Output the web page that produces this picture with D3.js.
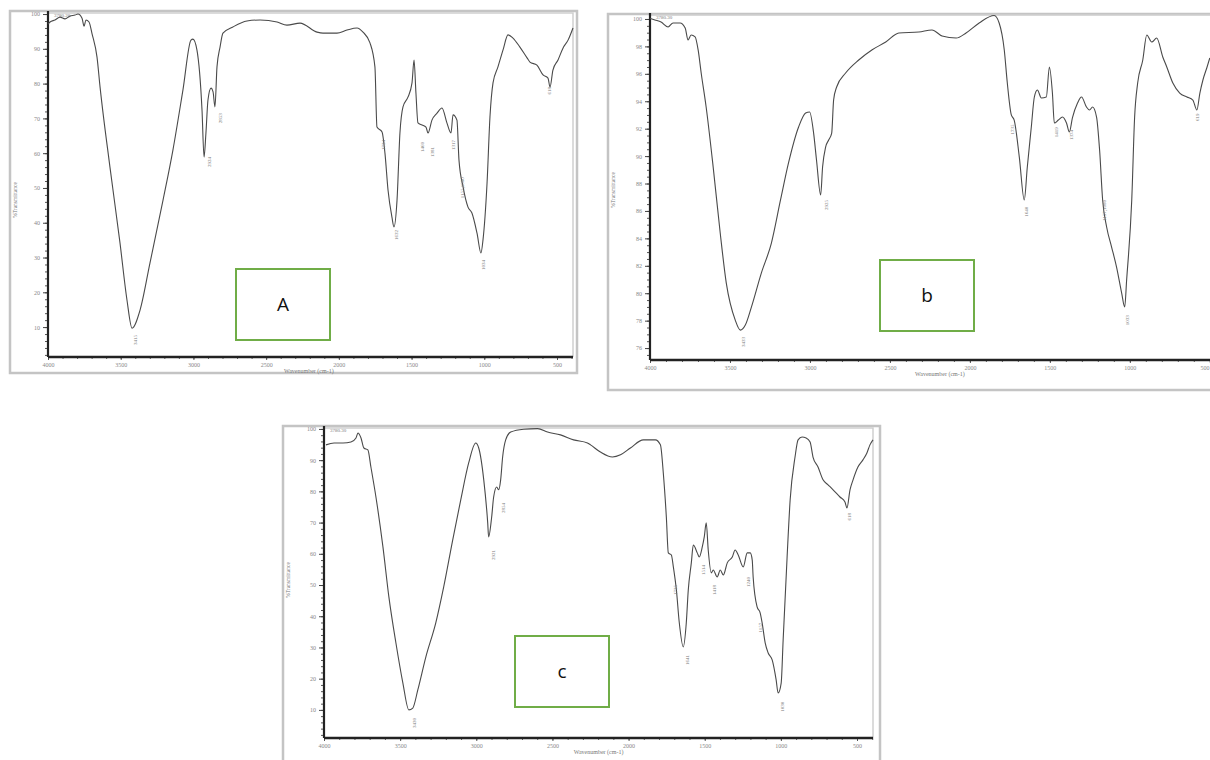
<!DOCTYPE html>
<html>
<head>
<meta charset="utf-8">
<script src="https://cdn.jsdelivr.net/npm/d3@7"></script>
<style>
  body { margin: 0; background: #fff; }
  svg { display: block; }
</style>
</head>
<body>
<script>
// three FTIR spectra (A, b, c)
var wnA = [4000,3986,3952,3917,3883,3849,3814,3794,3766,3752,3739,3718,3697,3663,3642,3574,3505,3457,3422,3367,
  3299,3209,3141,3072,3017,3003,2976,2941,2927,2914,2900,2879,2865,2852,2838,2817,2797,2728,2632,2542,
  2425,2357,2267,2150,2109,2013,1944,1875,1834,1786,1752,1738,1703,1683,1662,1635,1621,1600,1580,1559,
  1525,1497,1483,1470,1456,1428,1401,1387,1360,1325,1291,1257,1229,1215,1188,1174,1146,1112,1085,1050,
  1023,1009,981,961,940,906,871,837,803,755,706,686,638,596,562,548,528,493,459,424,390];
var tA = [97.1,97.7,98.3,99.1,98.6,99.4,99.7,100,98.8,96.5,98.3,97.7,94.3,87.6,79.0,56.0,34.2,17.8,9.7,14.9,
  28.4,46.5,60.9,78.2,92.5,92.8,89.7,72.4,58.9,65.8,75.3,78.7,77.6,73.3,84.8,90.5,94.5,96.3,98.0,98.3,
  97.7,96.8,97.4,94.8,94.5,94.5,95.4,96.0,94.8,91.7,84.8,67.5,66.1,60.0,49.4,41.6,38.8,46.5,65.8,73.3,
  76.1,80.2,86.8,77.3,68.7,68.1,67.5,65.8,69.5,71.5,73.0,68.7,65.8,71.0,69.5,58.0,50.3,44.5,42.8,37.0,
  31.3,35.0,51.4,70.4,80.2,84.8,89.7,94.0,93.1,90.5,87.4,86.2,85.3,82.5,81.6,79.0,83.9,86.8,90.2,92.5,96.0];

var wnB = [4000,3969,3931,3887,3856,3812,3780,3762,3743,3718,3699,3680,3649,3605,3561,3523,3467,3435,3404,3366,
  3304,3241,3184,3134,3071,3027,3002,2977,2959,2933,2921,2902,2883,2864,2852,2833,2777,2695,2613,2526,
  2444,2319,2237,2174,2086,2024,1942,1848,1817,1785,1766,1741,1723,1691,1660,1641,1616,1597,1578,1553,
  1522,1503,1484,1472,1447,1421,1396,1378,1359,1327,1302,1271,1252,1233,1208,1189,1170,1145,1114,1083,
  1051,1032,1020,988,970,951,919,894,863,832,794,769,731,688,643,606,581,562,543,517,500];
var tB = [100.05,99.93,99.78,99.42,99.71,99.71,99.34,98.47,98.83,98.69,97.74,96.06,93.58,89.20,84.39,80.74,78.04,77.31,77.68,78.99,
  81.47,83.66,86.80,89.50,92.12,93.14,93.22,91.68,89.72,87.16,89.20,90.66,91.17,91.68,94.09,95.04,96.06,97.01,97.74,98.32,
  98.98,99.05,99.20,98.76,98.61,98.98,99.71,100.25,99.71,97.74,95.33,93.00,92.63,89.93,86.80,89.20,92.12,94.31,94.82,94.24,
  94.31,96.50,94.60,92.41,92.63,92.85,92.41,91.76,92.78,93.87,94.31,93.58,93.36,93.58,92.85,90.44,86.80,84.83,83.37,81.91,
  80.01,78.99,80.96,86.80,92.85,95.33,97.01,98.83,98.32,98.61,97.23,96.50,95.33,94.60,94.31,94.09,93.36,94.60,95.55,96.50,97.16];

var wnC = [3987,3934,3875,3823,3790,3777,3757,3738,3712,3692,3659,3613,3574,3528,3482,3443,3417,3384,3331,3266,
  3214,3155,3102,3050,3004,2984,2951,2925,2919,2899,2886,2866,2853,2840,2827,2807,2774,2689,2597,2532,
  2447,2361,2270,2250,2185,2106,2053,1988,1903,1824,1791,1772,1752,1739,1719,1706,1686,1667,1641,1621,
  1608,1588,1575,1549,1536,1516,1503,1490,1477,1457,1444,1418,1398,1378,1352,1319,1300,1280,1247,1221,
  1201,1188,1182,1156,1136,1123,1103,1084,1057,1031,1018,998,985,959,939,907,887,861,834,808,
  789,756,723,690,657,612,579,566,546,526,494,461,435,415,395];
var tC = [94.9,95.5,95.5,95.8,97.1,98.7,97.1,93.9,93.3,87.8,78.2,62.2,46.2,31.5,18.6,10.0,10.6,16.4,27.0,37.9,
  49.4,64.4,77.3,89.1,95.5,93.9,83.7,69.9,65.4,71.8,78.2,81.4,80.5,83.7,91.0,96.5,99.0,99.9,100.1,99.0,
  98.1,96.5,95.5,94.9,92.6,91.0,91.7,93.9,96.5,96.5,94.9,85.9,71.8,60.3,59.6,55.8,48.4,37.9,30.2,37.9,
  48.4,57.1,62.8,60.3,59.0,62.2,65.4,69.9,61.2,53.9,54.8,52.6,54.8,53.2,57.1,59.0,61.2,59.6,55.8,60.3,
  60.3,58.0,52.6,43.0,41.1,37.9,31.5,28.3,26.0,19.6,15.4,18.6,32.4,59.0,77.3,91.0,96.5,97.4,97.1,95.8,
  91.0,87.8,83.7,82.1,80.5,78.2,76.6,74.7,80.5,83.7,87.8,90.1,92.3,94.9,96.5];

// peak labels: text, wavenumber and %T where the label starts
var peaksA = [["3415",3402,7.7],["2924",2893,58.9],["2853",2817,71.5],["1734",1696,63.8],["1632",1608,37.9],
  ["1460",1428,63.2],["1381",1360,61.8],["1317",1215,63.8],["1155,1080",1153,53.1],["1034",1009,29.3],["618",554,79.0]];
var peaksB = [["3433",3417,76.8],["2925",2896,86.8],["1735",1735,92.3],["1640",1647,86.3],["1419",1459,92.1],
  ["1374",1365,91.9],["1157,1080",1158,86.8],["1033",1014,78.4],["619",581,93.1]];
var peaksC = [["3430",3410,7.4],["2921",2886,61.2],["2854",2820,76.3],["1735",1693,50.0],["1641",1614,27.6],
  ["1514",1509,56.4],["1418",1437,50.0],["1240",1215,52.6],["1157",1136,37.9],["1030",992,12.6],["618",553,73.1]];
var topNotes = ["3780.26", "3780.30", "3780.30"];

var xTicks = [4000,3500,3000,2500,2000,1500,1000,500];
var yTicksA = [10,20,30,40,50,60,70,80,90,100];
var yTicksB = [76,78,80,82,84,86,88,90,92,94,96,98,100];
var yTicksC = [10,20,30,40,50,60,70,80,90,100];
var panelNames = ["A", "b", "c"];

var W = 1210, H = 760;
var svg = d3.select("body").append("svg")
    .attr("width", W).attr("height", H)
    .style("font-family", "'Liberation Serif', serif");

svg.append("rect").attr("width", W).attr("height", H).attr("fill", "#fff");

var panels = [
  {wn: wnA, t: tA, peaks: peaksA, yTicks: yTicksA, yMinor: 2, note: topNotes[0], name: panelNames[0],
   frame: [10, 11, 567, 362], l: 48, r: 573, top: 13, bot: 357, xDom: [4000, 390], yDom: [1.4, 100.3],
   box: [236, 269, 94, 71], yTitle: 200},
  {wn: wnB, t: tB, peaks: peaksB, yTicks: yTicksB, yMinor: 0.5, note: topNotes[1], name: panelNames[1],
   frame: [608, 14, 610, 376], l: 650, r: 1213, top: 15, bot: 360, xDom: [4000, 480], yDom: [75.13, 100.29],
   box: [880, 260, 94, 71], yTitle: 190},
  {wn: wnC, t: tC, peaks: peaksC, yTicks: yTicksC, yMinor: 2, note: topNotes[2], name: panelNames[2],
   frame: [283, 426, 597, 340], l: 324, r: 873, top: 428, bot: 738, xDom: [4000, 395], yDom: [1.0, 100.3],
   box: [515, 636, 94, 71], yTitle: 580}
];

panels.forEach(function(p, i) {
  var g = svg.append("g");

  // scan frame
  g.append("rect")
      .attr("x", p.frame[0]).attr("y", p.frame[1])
      .attr("width", p.frame[2]).attr("height", p.frame[3])
      .attr("fill", "none").attr("stroke", "#c4c4c4").attr("stroke-width", 2.5);

  var x = d3.scaleLinear().domain(p.xDom).range([p.l, p.r]),
      y = d3.scaleLinear().domain(p.yDom).range([p.bot, p.top]);

  // light top/right border of the plot
  g.append("path")
      .attr("d", "M" + p.l + "," + p.top + "H" + p.r + "V" + p.bot)
      .attr("fill", "none").attr("stroke", "#cfcfcf").attr("stroke-width", 1.5);

  // y axis with dense ruler ticks
  var yMin = d3.range(Math.ceil(p.yDom[0] / p.yMinor) * p.yMinor, p.yDom[1], p.yMinor);
  g.append("g")
      .attr("transform", "translate(" + p.l + ",0)")
      .call(d3.axisLeft(y).tickValues(yMin).tickSize(3).tickFormat(""))
      .call(function(a) { a.select(".domain").remove(); a.selectAll("line").attr("stroke", "#555"); });
  g.append("g")
      .attr("transform", "translate(" + p.l + ",0)")
      .call(d3.axisLeft(y).tickValues(p.yTicks).tickSize(5).tickPadding(3).tickFormat(d3.format("d")))
      .call(function(a) {
        a.select(".domain").remove();
        a.selectAll("line").attr("stroke", "#444");
        a.selectAll("text").attr("fill", "#888").style("font-size", "6px")
          .style("font-family", "'Liberation Serif', serif");
      });
  g.append("line")
      .attr("x1", p.l).attr("x2", p.l).attr("y1", p.top - 2).attr("y2", p.bot)
      .attr("stroke", "#222").attr("stroke-width", 2.2);

  // x axis
  var xMin = d3.range(4000, p.xDom[1], -100);
  g.append("g")
      .attr("transform", "translate(0," + p.bot + ")")
      .call(d3.axisBottom(x).tickValues(xMin).tickSize(2).tickFormat(""))
      .call(function(a) { a.select(".domain").remove(); a.selectAll("line").attr("stroke", "#666"); });
  g.append("g")
      .attr("transform", "translate(0," + p.bot + ")")
      .call(d3.axisBottom(x).tickValues(xTicks).tickSize(3).tickPadding(3).tickFormat(d3.format("d")))
      .call(function(a) {
        a.select(".domain").remove();
        a.selectAll("line").attr("stroke", "#555");
        a.selectAll("text").attr("fill", "#888").style("font-size", "6px")
          .style("font-family", "'Liberation Serif', serif")
          .attr("text-anchor", function(d) { return x(d) > W - 8 ? "end" : "middle"; })
          .attr("dx", function(d) { return x(d) > W - 8 ? (W - 1 - x(d)) : 0; });
      });
  g.append("line")
      .attr("x1", p.l).attr("x2", Math.min(p.r, W)).attr("y1", p.bot).attr("y2", p.bot)
      .attr("stroke", "#222").attr("stroke-width", 2.5);

  // axis titles
  g.append("text")
      .attr("transform", "translate(" + (p.frame[0] + 7) + "," + p.yTitle + ") rotate(-90)")
      .attr("text-anchor", "middle").attr("fill", "#777").style("font-size", "5.5px")
      .text("%Transmittance");
  g.append("text")
      .attr("x", x(2000) - 30).attr("y", p.bot + 16)
      .attr("text-anchor", "middle").attr("fill", "#777").style("font-size", "6px")
      .text("Wavenumber (cm-1)");

  // spectrum
  var data = d3.zip(p.wn, p.t);
  var line = d3.line()
      .curve(d3.curveMonotoneX)
      .x(function(d) { return x(d[0]); })
      .y(function(d) { return y(d[1]); });
  g.append("path")
      .datum(data)
      .attr("d", line)
      .attr("fill", "none")
      .attr("stroke", "#4a4a4a")
      .attr("stroke-width", 1.1)
      .attr("stroke-linejoin", "round");

  // peak labels
  g.selectAll(".peak")
    .data(p.peaks)
    .enter().append("text")
      .attr("class", "peak")
      .attr("transform", function(d) { return "translate(" + x(d[1]) + "," + y(d[2]) + ") rotate(-90)"; })
      .attr("text-anchor", "end")
      .attr("dy", "0.35em")
      .attr("fill", "#777")
      .style("font-size", "5px")
      .text(function(d) { return d[0]; });

  g.append("text")
      .attr("x", p.l + 6).attr("y", p.top + 4)
      .attr("fill", "#777").style("font-size", "5px")
      .text(p.note);

  // green label box
  g.append("rect")
      .attr("x", p.box[0]).attr("y", p.box[1])
      .attr("width", p.box[2]).attr("height", p.box[3])
      .attr("fill", "#fff").attr("stroke", "#70ad47").attr("stroke-width", 2);
  g.append("text")
      .attr("x", p.box[0] + p.box[2] / 2).attr("y", p.box[1] + p.box[3] / 2)
      .attr("dy", "0.36em")
      .attr("text-anchor", "middle")
      .attr("fill", "#111")
      .style("font-family", "'Open Sans', 'Liberation Sans', sans-serif")
      .style("font-size", "19px")
      .text(p.name);
});
</script>
</body>
</html>
